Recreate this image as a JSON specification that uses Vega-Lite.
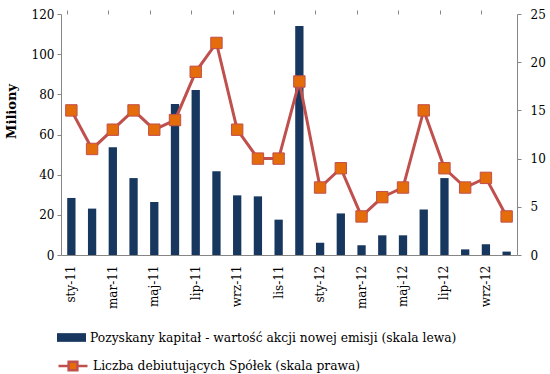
{
  "$schema": "https://vega.github.io/schema/vega-lite/v6.json",
  "width": 456,
  "height": 241,
  "autosize": "none",
  "padding": {"left": 61, "top": 14, "right": 33, "bottom": 119},
  "background": "white",
  "config": {
    "view": {"stroke": null},
    "font": "DejaVu Serif",
    "axis": {
      "labelFont": "DejaVu Serif",
      "labelFontSize": 12,
      "labelColor": "#000000",
      "domainColor": "#868686",
      "tickColor": "#868686",
      "grid": false,
      "tickSize": 4
    },
    "legend": {
      "labelFont": "DejaVu Serif",
      "labelFontSize": 12.3,
      "labelColor": "#000000",
      "labelLimit": 600
    }
  },
  "data": {
    "values": [
      {"m": "sty-11", "kap": 28.4, "n": 15},
      {"m": "lut-11", "kap": 23.1, "n": 11},
      {"m": "mar-11", "kap": 53.6, "n": 13},
      {"m": "kwi-11", "kap": 38.3, "n": 15},
      {"m": "maj-11", "kap": 26.4, "n": 13},
      {"m": "cze-11", "kap": 75.2, "n": 14},
      {"m": "lip-11", "kap": 82.2, "n": 19},
      {"m": "sie-11", "kap": 41.7, "n": 22},
      {"m": "wrz-11", "kap": 29.7, "n": 13},
      {"m": "paź-11", "kap": 29.2, "n": 10},
      {"m": "lis-11", "kap": 17.6, "n": 10},
      {"m": "gru-11", "kap": 114.0, "n": 18},
      {"m": "sty-12", "kap": 6.1, "n": 7},
      {"m": "lut-12", "kap": 20.7, "n": 9},
      {"m": "mar-12", "kap": 4.8, "n": 4},
      {"m": "kwi-12", "kap": 9.8, "n": 6},
      {"m": "maj-12", "kap": 9.8, "n": 7},
      {"m": "cze-12", "kap": 22.6, "n": 15},
      {"m": "lip-12", "kap": 38.3, "n": 9},
      {"m": "sie-12", "kap": 2.8, "n": 7},
      {"m": "wrz-12", "kap": 5.3, "n": 8},
      {"m": "paź-12", "kap": 1.7, "n": 4}
    ]
  },
  "layer": [
    {
      "mark": {"type": "bar"},
      "encoding": {
        "x": {
          "field": "m", "type": "ordinal", "sort": null,
          "scale": {"paddingInner": 0.6, "paddingOuter": 0.3},
          "axis": {
            "title": null,
            "values": ["sty-11", "mar-11", "maj-11", "lip-11", "wrz-11", "lis-11", "sty-12", "mar-12", "maj-12", "lip-12", "wrz-12"],
            "ticks": false,
            "labelAngle": -90,
            "labelAlign": "right",
            "labelBaseline": "middle",
            "labelPadding": 10,
            "domain": true
          }
        },
        "y": {
          "field": "kap", "type": "quantitative",
          "scale": {"domain": [0, 120]},
          "axis": {
            "values": [0, 20, 40, 60, 80, 100, 120],
            "title": "Miliony",
            "titleFont": "DejaVu Serif",
            "titleFontSize": 13,
            "titleFontWeight": "bold",
            "titleColor": "#000000",
            "titleAngle": -90,
            "titleX": -50,
            "titleY": 97,
            "titleAlign": "center",
            "titleBaseline": "middle",
            "labelPadding": 3
          }
        },
        "color": {
          "datum": "Pozyskany kapitał - wartość akcji nowej emisji (skala lewa)",
          "scale": {"range": ["#17375E"]},
          "legend": {
            "title": null,
            "orient": "none",
            "legendX": -4,
            "legendY": 309,
            "symbolType": "M-1,-0.3H1V0.3H-1Z",
            "symbolSize": 841,
            "symbolStrokeWidth": 0,
            "labelOffset": 4
          }
        }
      }
    },
    {
      "mark": {"type": "line", "strokeWidth": 3},
      "encoding": {
        "x": {
          "field": "m", "type": "ordinal", "sort": null,
          "axis": {
            "title": null,
            "values": ["sty-11", "mar-11", "maj-11", "lip-11", "wrz-11", "lis-11", "sty-12", "mar-12", "maj-12", "lip-12", "wrz-12"],
            "bandPosition": 0,
            "labels": false,
            "ticks": true,
            "domain": false
          }
        },
        "y": {
          "field": "n", "type": "quantitative",
          "scale": {"domain": [0, 25]},
          "axis": {
            "orient": "right",
            "title": null,
            "values": [0, 5, 10, 15, 20, 25],
            "labelPadding": 9
          }
        },
        "stroke": {
          "datum": "Liczba debiutujących Spółek (skala prawa)",
          "scale": {"range": ["#C0504D"]},
          "legend": {
            "title": null,
            "orient": "none",
            "legendX": -4,
            "legendY": 336,
            "symbolType": "M-1,0H-0.3M0.3,0H1M-0.3,-0.3H0.3V0.3H-0.3Z",
            "symbolSize": 841,
            "symbolStrokeWidth": 2.5,
            "symbolFillColor": "#E46C0A",
            "labelOffset": 4,
            "encode": {"symbols": {"update": {"fill": {"value": "#E46C0A"}, "fillOpacity": {"value": 1}}}}
          }
        }
      }
    },
    {
      "mark": {"type": "point", "shape": "square", "filled": true, "fill": "#E46C0A", "stroke": "#C0504D", "strokeWidth": 1, "size": 130, "opacity": 1},
      "encoding": {
        "x": {"field": "m", "type": "ordinal", "sort": null, "axis": null},
        "y": {"field": "n", "type": "quantitative", "scale": {"domain": [0, 25]}, "axis": null}
      }
    }
  ],
  "resolve": {
    "scale": {"y": "independent", "color": "independent", "stroke": "independent"},
    "axis": {"x": "independent"}
  }
}
